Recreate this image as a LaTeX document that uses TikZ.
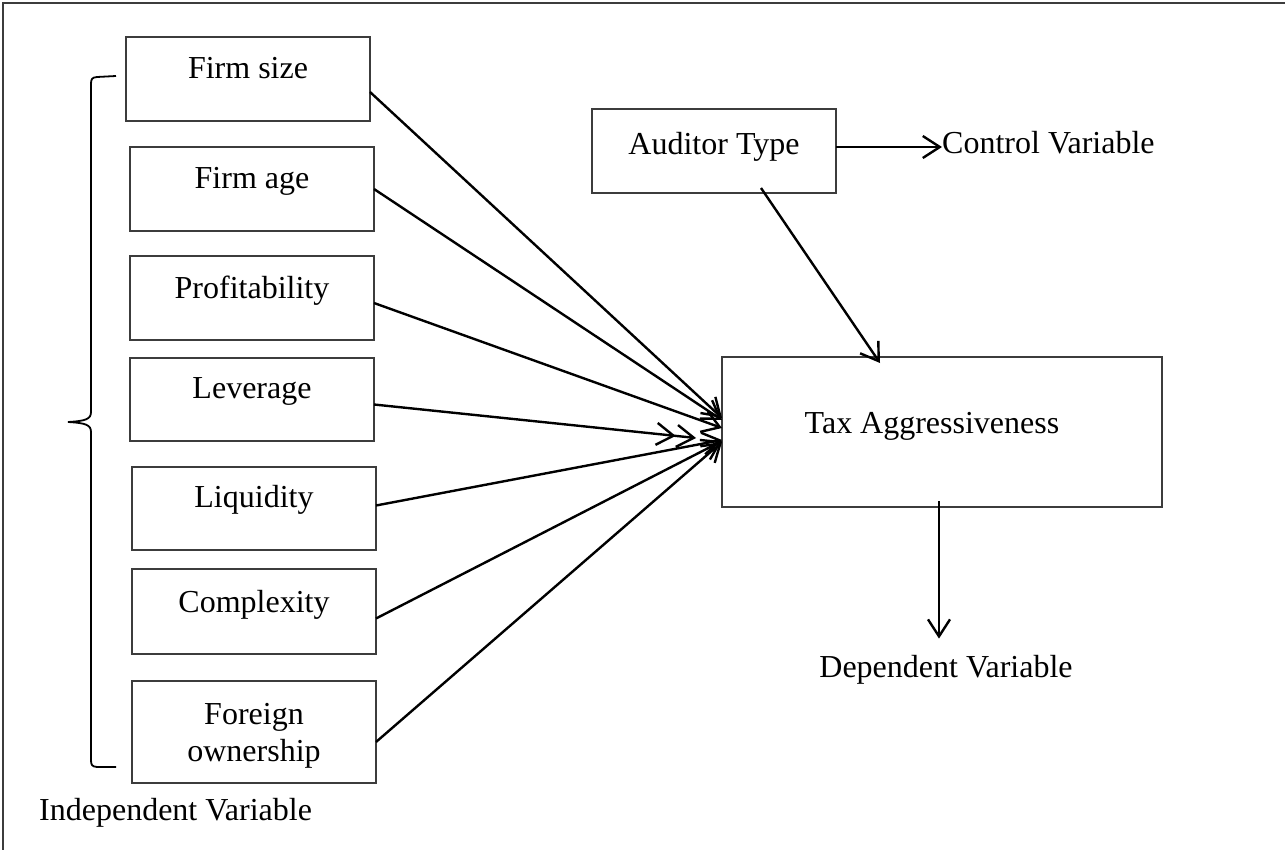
\documentclass[tikz,border=0pt]{standalone}
\usepackage{fontspec}
\setmainfont{Liberation Serif}
\usetikzlibrary{arrows.meta}
\definecolor{boxgray}{RGB}{60,60,60}
\begin{document}
\begin{tikzpicture}[x=1pt,y=-1pt,
  box/.style={draw=boxgray, line width=1.3pt, minimum width=244pt, minimum height=84pt, inner sep=0pt, outer sep=0pt},
  lbl/.style={font=\fontsize{32}{37}\selectfont, inner sep=0pt, align=center},
  arr/.style={draw=black, line width=2.4pt, -{Straight Barb[length=17pt,width=22pt]}},
  darr/.style={draw=black, line width=2.4pt, -{Straight Barb[length=17pt,width=22pt] Straight Barb[length=17pt,width=22pt]}}]
\useasboundingbox (0,0) rectangle (1285,850);
% frame (top and left only visible)
\draw[boxgray, line width=1.3pt] (3,850) -- (3,3) -- (1285,3);

% independent variable boxes
\node[box] (fsize) at (248,79) [label={[lbl,anchor=north,yshift=-20pt]north:Firm size}] {};
\node[box] (fage) at (252,189) [label={[lbl,anchor=north,yshift=-20pt]north:Firm age}] {};
\node[box] (prof) at (252,298) [label={[lbl,anchor=north,yshift=-20pt]north:Profitability}] {};
\node[box, minimum height=83pt] (lev) at (252,399.5) [label={[lbl,anchor=north,yshift=-19pt]north:Leverage}] {};
\node[box, minimum height=83pt] (liq) at (254,508.5) [label={[lbl,anchor=north,yshift=-18pt]north:Liquidity}] {};
\node[box, minimum height=85pt] (comp) at (254,611.5) [label={[lbl,anchor=north,yshift=-21pt]north:Complexity}] {};
\node[box, minimum height=102pt] (fore) at (254,732) [label={[lbl,anchor=north,yshift=-22pt]north:Foreign\\ownership}] {};

% control and dependent
\node[box] (aud) at (714,151) [label={[lbl,anchor=north,yshift=-23pt]north:Auditor Type}] {};
\node[box, minimum width=440pt, minimum height=150pt] (tax) at (942,432) [label={[lbl,anchor=north,yshift=-55pt,xshift=-10pt]north:Tax Aggressiveness}] {};

\node[lbl, anchor=base west] (ctrl) at (942,154) {Control Variable};
\node[lbl, anchor=base] (dep) at (946,677) {Dependent Variable};
\node[lbl, anchor=base west] (indep) at (39,820) {Independent Variable};

% brace
\draw[black, line width=1.8pt]
  (116,76) -- (97,77) .. controls (92,77.5) and (91,79) .. (91,84)
  -- (91,412) .. controls (91,419) and (86,421) .. (68,422)
  .. controls (86,423) and (91,425) .. (91,432)
  -- (91,760) .. controls (91,765) and (92,766.5) .. (97,767) -- (116,767);

% arrows into tax aggressiveness
\draw[arr] ([yshift=-13pt]fsize.east) -- ([yshift=14pt]tax.west);
\draw[arr] (fage.east) -- ([yshift=12pt]tax.west);
\draw[arr] ([yshift=-5pt]prof.east) -- ([yshift=4pt]tax.west);
\draw[darr] ([yshift=-5pt]lev.east) -- ([xshift=-26pt,yshift=-6pt]tax.west);
\draw[arr] ([yshift=3pt]liq.east) -- ([yshift=-8pt]tax.west);
\draw[arr] ([yshift=-7pt]comp.east) -- ([yshift=-9pt]tax.west);
\draw[arr] ([yshift=-10pt]fore.east) -- ([yshift=-10pt]tax.west);

% auditor arrows
\draw[arr] ([yshift=4pt]aud.east) -- ([yshift=4pt]aud.east -| ctrl.west);
\draw[arr] ([xshift=47pt,yshift=5pt]aud.south) -- ([xshift=-62pt,yshift=-6pt]tax.north);

% dependent arrow
\draw[arr] ([xshift=-3pt,yshift=6pt]tax.south) -- ([xshift=-7pt,yshift=16pt]dep.north);
\end{tikzpicture}
\end{document}
